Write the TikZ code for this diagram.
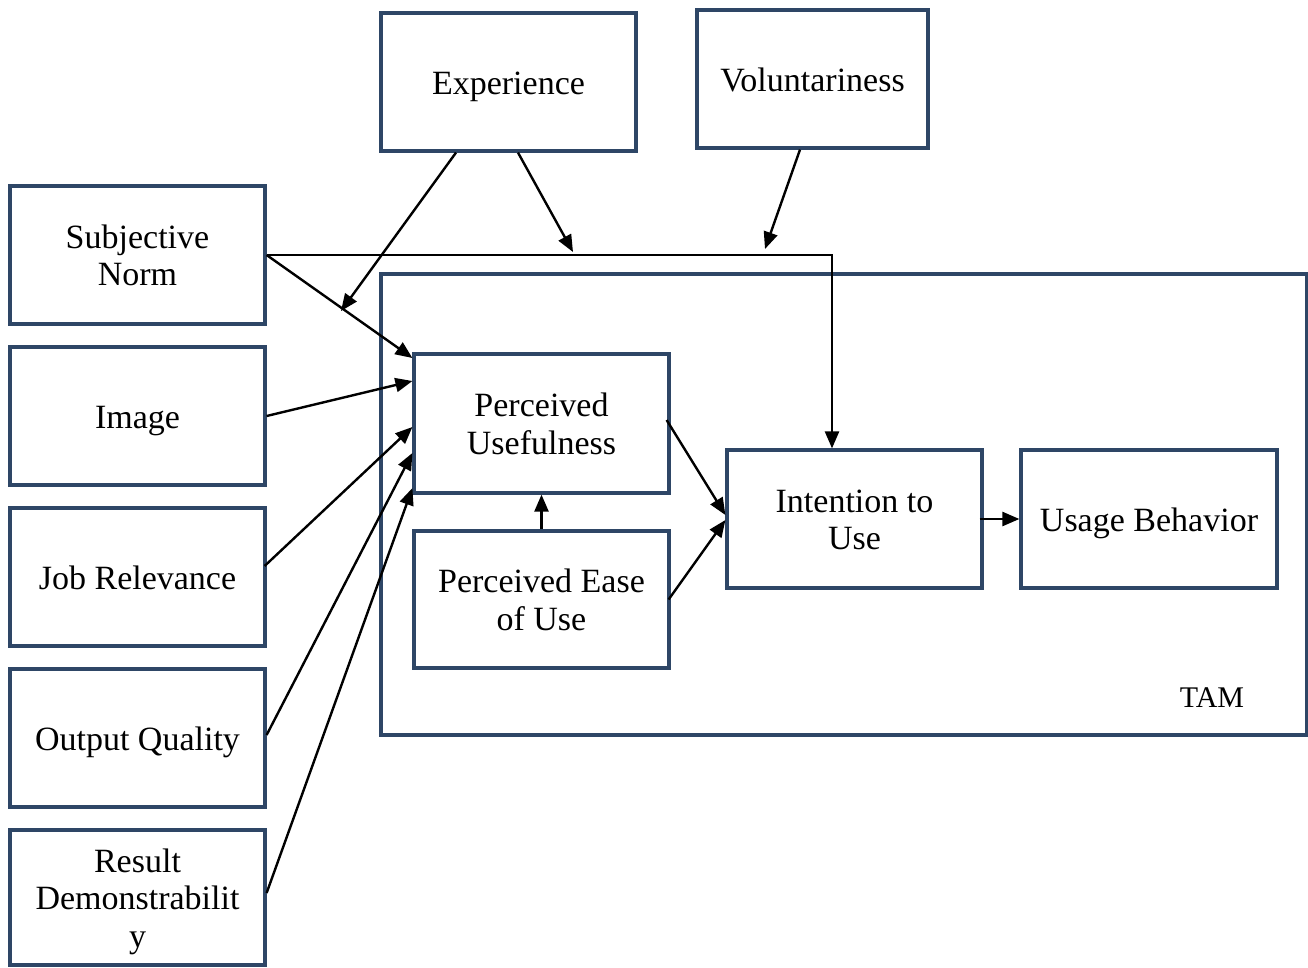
\documentclass[tikz,border=0pt]{standalone}
\usepackage{fontspec}
\setmainfont{Liberation Serif}
\usetikzlibrary{arrows.meta,calc}
\definecolor{boxblue}{RGB}{46,70,102}
\begin{document}
\begin{tikzpicture}[x=1pt,y=-1pt,
  box/.style={draw=boxblue,line width=3.2pt,fill=white,minimum width=255pt,
    minimum height=138pt,align=center,inner sep=0pt,
    font=\fontsize{34}{37.5}\selectfont,text depth=10pt,text height=34pt},
  twolines/.style={text height=71.5pt},
  threelines/.style={text height=109pt},
  frame/.style={draw=boxblue,line width=3.2pt,minimum width=926pt,minimum height=461pt,inner sep=0pt},
  label/.style={font=\fontsize{30}{34}\selectfont,inner sep=0pt},
  link/.style={draw=black,line width=2.4pt,-{Triangle[length=17pt,width=14pt]}}]
\useasboundingbox (0,0) rectangle (1308,967);

% TAM frame
\node[frame] (tam) at (844,504.5) {};
\node[label] (tamlabel) at (1212,698) {TAM};

% moderators
\node[box] (exp) at (508.5,82) {Experience};
\node[box,minimum width=231pt] (vol) at (812.5,79) {Voluntariness};

% external determinants
\node[box,twolines] (sn) at (137.5,255) {Subjective\\Norm};
\node[box] (img) at (137.5,416) {Image};
\node[box] (job) at (137.5,577) {Job Relevance};
\node[box] (oq) at (137.5,738) {Output Quality};
\node[box,threelines,minimum height=135pt] (rd) at (137.5,897.5) {Result\\Demonstrabilit\\y};

% TAM core
\node[box,twolines,minimum height=139pt] (pu) at (541.5,423.5) {Perceived\\Usefulness};
\node[box,twolines,minimum height=137pt] (peou) at (541.5,599.5) {Perceived Ease\\of Use};
\node[box,twolines] (itu) at (854.5,519) {Intention to\\Use};
\node[box,minimum width=256pt] (ub) at (1149,519) {Usage Behavior};

% free ends of the moderator arrows
\coordinate (expsn) at (341,311);
\coordinate (expitu) at (573,252);
\coordinate (volitu) at (765,249);

% moderator arrows
\draw[link] ([xshift=-52.5pt]exp.south) -- (expsn);
\draw[link] ([xshift=9.5pt]exp.south) -- (expitu);
\draw[link] ([xshift=-12.5pt]vol.south) -- (volitu);

% subjective norm to intention
\draw[link] (sn.east) -| ([xshift=-22.5pt]itu.north);

% determinants of perceived usefulness
\draw[link] (sn.east) -- ([yshift=65.5pt]pu.west);
\draw[link] (img.east) -- ([yshift=42.5pt]pu.west);
\draw[link] ([xshift=-2pt,yshift=11pt]job.east) -- ([yshift=-3.5pt]pu.west);
\draw[link] ([yshift=3pt]oq.east) -- ([yshift=-29.5pt]pu.west);
\draw[link] ([yshift=4.5pt]rd.east) -- ([yshift=-64.5pt]pu.west);

% TAM paths
\draw[link] (peou.north) -- (pu.south);
\draw[link] ([xshift=-4pt,yshift=3.5pt]pu.east) -- ([yshift=4pt]itu.west);
\draw[link] ([xshift=-2pt]peou.east) -- ([yshift=-1pt]itu.west);
\draw[link] ([xshift=-4pt]itu.east) -- (ub.west);
\end{tikzpicture}
\end{document}
